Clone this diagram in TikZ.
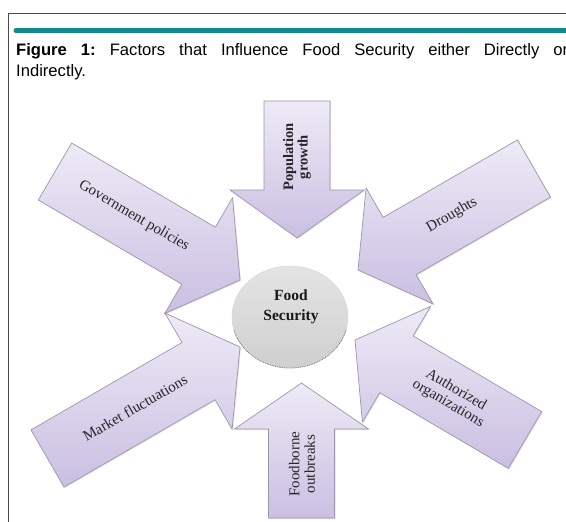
\documentclass[tikz,border=0pt]{standalone}
\usepackage{fontspec}
\setmainfont{Liberation Serif}
\newfontfamily\capfont{Liberation Sans}
\usetikzlibrary{shapes.geometric,shadows}
\definecolor{tealline}{HTML}{12898D}
\definecolor{lavL}{HTML}{EEEAF6}
\definecolor{lavD}{HTML}{CABFE2}
\definecolor{arrline}{HTML}{9C96AA}
\definecolor{framegray}{HTML}{4A4A4A}
\definecolor{circL}{HTML}{E4E4E4}
\definecolor{circD}{HTML}{CFCFCF}
\frenchspacing
\begin{document}
\begin{tikzpicture}[x=1pt,y=-1pt,
  factor/.style={draw=arrline, line width=0.7pt, line join=miter,
    top color=lavL, bottom color=lavD,
    drop shadow={opacity=0.22, shadow xshift=1pt, shadow yshift=-1pt}},
  lbl/.style={font=\fontsize{15}{15.5}\selectfont, text=black!85, align=center, inner sep=0pt},
  boldlbl/.style={font=\fontsize{14.5}{14.5}\selectfont\bfseries, text=black!85, align=center, inner sep=0pt},
  captxt/.style={font=\capfont\fontsize{16.6}{20}\selectfont, inner sep=0pt, anchor=base west}]
\useasboundingbox (0,0) rectangle (566,522);
\fill[white] (0,0) rectangle (566,522);
% frame
\draw[framegray, line width=1pt] (8,530) -- (8,13) -- (575,13);
% teal rule
\draw[tealline, line width=5pt, line cap=round] (16,30.5) -- (580,30.5);
% caption
\node[captxt] (cap1) at (16,55) {\makebox[552pt][s]{\textbf{Figure 1:} Factors that Influence Food Security either Directly or}};
\node[captxt] (cap2) at (16,76) {Indirectly.};
% arrows
\path[factor] (264,101) -- (330,101) -- (330,190) -- (364,190) -- (297,238) -- (230,190) -- (264,190) -- cycle;
\path[factor] (71.7,143) -- (215.3,227.2) -- (232.5,197.9) -- (240,280) -- (164.7,313.5) -- (181.9,284.2) -- (38.3,200) -- cycle;
\path[factor] (517.5,139.9) -- (383.1,217.4) -- (366.1,188) -- (358,270) -- (433.1,304) -- (416.1,274.6) -- (550.5,197.1) -- cycle;
\path[factor] (31,429.9) -- (182,342.5) -- (164.9,313.1) -- (240,347) -- (232.1,429.1) -- (215,399.7) -- (64,487.1) -- cycle;
\path[factor] (541.7,411.6) -- (413.1,335.9) -- (430.4,306.5) -- (355,340) -- (362.4,422.1) -- (379.7,392.7) -- (508.3,468.4) -- cycle;
\path[factor] (268.5,518) -- (268.5,429) -- (234.5,429) -- (301.5,383) -- (368.5,429) -- (334.5,429) -- (334.5,518) -- cycle;
% centre
\node[ellipse, minimum width=116pt, minimum height=102pt, inner sep=0pt, top color=circL, bottom color=circD, draw=white!85!black, line width=0.5pt] (fs) at (290,317) {};
\draw[black!55, densely dotted, line width=0.8pt] (fs.center) ++(15:58 and 51) arc[start angle=15, end angle=165, x radius=58, y radius=51];
\node[font=\fontsize{15.5}{20}\selectfont\bfseries, align=center, inner sep=0pt, text=black!90] (fstext) at (291,307) {Food\\Security};
% labels
\node[boldlbl, rotate=90] (pop) at (297,157) {Population\\growth};
\node[lbl, rotate=-30.5] (gov) at (134,216) {Government policies};
\node[lbl, rotate=30] (dro) at (452,215) {Droughts};
\node[lbl, rotate=30] (mkt) at (135,408) {Market fluctuations};
\node[lbl, rotate=-30.5] (auth) at (452,397) {Authorized\\organizations};
\node[lbl, rotate=90] (food) at (302,464) {Foodborne\\outbreaks};
\end{tikzpicture}
\end{document}
